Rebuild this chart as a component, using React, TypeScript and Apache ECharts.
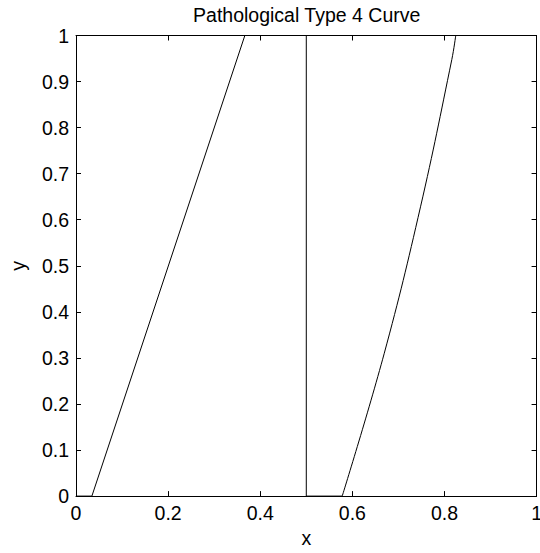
import React, { useEffect, useRef } from "react";
import * as echarts from "echarts";

const titleText = "Pathological Type 4 Curve";
const xName = "x";
const yName = "y";
const xMin = 0;
const xMax = 1;
const xInterval = 0.2;
const yMin = 0;
const yMax = 1;
const yInterval = 0.1;

// Straight pieces of the curve
const straightX = [0, 0.0345, 0.3666, 0.5, 0.5, 0.578];
const straightY = [0, 0, 1, 1, 0, 0];
// Curved rising piece
const bentX = [0.578, 0.669, 0.748, 0.816, 0.8245];
const bentY = [0, 0.309, 0.628, 0.948, 1];
// Final flat piece along the top
const tailX = [0.8245, 1];
const tailY = [1, 1];

const FONT = "'Liberation Sans', Arial, Helvetica, sans-serif";
const FS = 19.5;

export default function App() {
  const ref = useRef<HTMLDivElement>(null);

  useEffect(() => {
    if (!ref.current) return;
    const chart = echarts.init(ref.current, undefined, { renderer: "svg" });
    const pair = (xs: number[], ys: number[]) => xs.map((x, i) => [x, ys[i]]);
    const fmt = (v: number) => String(Math.round(v * 10) / 10);
    const lineStyle = { color: "#000", width: 1 };
    chart.setOption({
      animation: false,
      backgroundColor: "#ffffff",
      textStyle: { fontFamily: FONT },
      title: {
        text: titleText,
        left: 306.7,
        textAlign: "center",
        top: 5,
        padding: 0,
        textStyle: { fontFamily: FONT, fontSize: FS, fontWeight: "normal", color: "#000" },
      },
      grid: { left: 71.5, right: 3, top: 35.5, bottom: 48, containLabel: false },
      xAxis: [
        {
          type: "value",
          min: xMin,
          max: xMax,
          interval: xInterval,
          position: "bottom",
          name: xName,
          nameLocation: "middle",
          nameGap: 26,
          nameTextStyle: { fontFamily: FONT, fontSize: FS, color: "#000" },
          axisLine: { show: true, onZero: false, lineStyle: { color: "#000", width: 1 } },
          axisTick: { show: true, inside: true, length: 5, lineStyle: { color: "#000" } },
          axisLabel: { show: true, margin: 7, fontFamily: FONT, fontSize: FS, color: "#000", formatter: fmt },
          splitLine: { show: false },
        },
        {
          type: "value",
          min: xMin,
          max: xMax,
          interval: xInterval,
          position: "top",
          axisLine: { show: true, onZero: false, lineStyle: { color: "#000", width: 1 } },
          axisTick: { show: true, inside: true, length: 5, lineStyle: { color: "#000" } },
          axisLabel: { show: false },
          splitLine: { show: false },
        },
      ],
      yAxis: [
        {
          type: "value",
          min: yMin,
          max: yMax,
          interval: yInterval,
          position: "left",
          name: yName,
          nameLocation: "middle",
          nameGap: 48,
          nameRotate: 90,
          nameTextStyle: { fontFamily: FONT, fontSize: FS, color: "#000" },
          axisLine: { show: true, onZero: false, lineStyle: { color: "#000", width: 1 } },
          axisTick: { show: true, inside: true, length: 5, lineStyle: { color: "#000" } },
          axisLabel: { show: true, margin: 7, fontFamily: FONT, fontSize: FS, color: "#000", formatter: fmt },
          splitLine: { show: false },
        },
        {
          type: "value",
          min: yMin,
          max: yMax,
          interval: yInterval,
          position: "right",
          axisLine: { show: true, onZero: false, lineStyle: { color: "#000", width: 1 } },
          axisTick: { show: true, inside: true, length: 5, lineStyle: { color: "#000" } },
          axisLabel: { show: false },
          splitLine: { show: false },
        },
      ],
      series: [
        {
          type: "line",
          data: pair(straightX, straightY),
          symbol: "none",
          clip: false,
          lineStyle,
        },
        {
          type: "line",
          data: pair(bentX, bentY),
          symbol: "none",
          smooth: 0.4,
          clip: false,
          lineStyle,
        },
        {
          type: "line",
          data: pair(tailX, tailY),
          symbol: "none",
          clip: false,
          lineStyle,
        },
      ],
    });
    return () => chart.dispose();
  }, []);

  return (
    <div style={{ position: "fixed", left: 0, top: 0, width: 540, height: 553, overflow: "hidden", background: "#fff" }}>
      <div ref={ref} style={{ width: 545, height: 553 }} />
    </div>
  );
}
